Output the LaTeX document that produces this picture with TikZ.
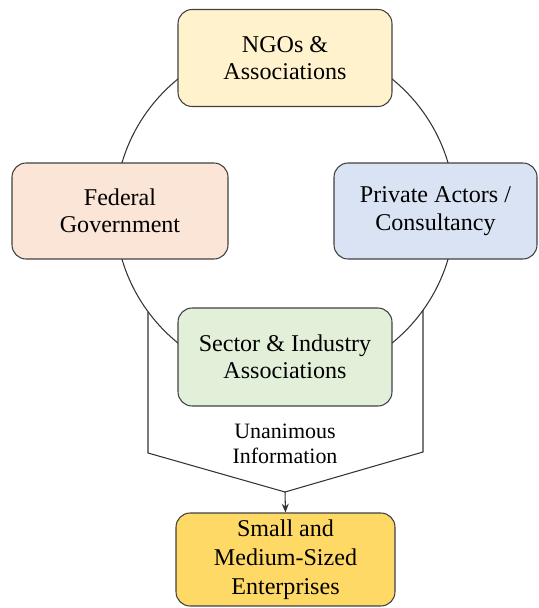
\documentclass[tikz,border=0pt]{standalone}
\usepackage{fontspec}
\setmainfont{LiberationSerif}[Extension=.ttf, UprightFont=*-Regular, BoldFont=*-Bold, ItalicFont=*-Italic, BoldItalicFont=*-BoldItalic]
\definecolor{ngoyellow}{RGB}{255, 242, 204}
\definecolor{fedpeach}{RGB}{251, 229, 214}
\definecolor{privblue}{RGB}{218, 227, 243}
\definecolor{sectgreen}{RGB}{226, 240, 217}
\definecolor{smegold}{RGB}{255, 217, 102}
\definecolor{edgegray}{RGB}{64, 64, 64}
\usetikzlibrary{arrows.meta, positioning}

\begin{document}
\begin{tikzpicture}[x=0.02cm, y=-0.02cm,
  actor/.style={draw=edgegray, line width=0.6pt, rounded corners=8pt, align=center, inner sep=0pt, font=\fontsize{13.7}{15.6}\selectfont},
  flow/.style={draw=black!80, line width=0.6pt}]
  \useasboundingbox (0,0) rectangle (538,608);

  % ring linking the four actor groups
  \draw[flow] (285,211) circle [radius=3.4cm];

  \node[actor, fill=ngoyellow, minimum width=4.28cm, minimum height=1.94cm] (ngo) at (285,58) {NGOs \&\\Associations};
  \node[actor, fill=fedpeach, minimum width=4.32cm, minimum height=1.92cm] (federal) at (120,211) {Federal\\Government};
  \node[actor, fill=privblue, minimum width=4.06cm, minimum height=1.92cm] (private) at (435.5,211) {Private Actors /\\Consultancy};
  \node[actor, fill=sectgreen, minimum width=4.28cm, minimum height=1.96cm] (sector) at (285,357) {Sector \& Industry\\Associations};
  \node[actor, fill=smegold, minimum width=4.38cm, minimum height=1.86cm, font=\fontsize{13.7}{16.4}\selectfont] (sme) at (285.5,559.5) {Small and\\Medium-Sized\\Enterprises};

  % funnel down to the enterprises
  \coordinate (leftdrop) at (148,312);
  \coordinate (leftbend) at (148,453);
  \coordinate (merge) at (285,492);
  \coordinate (rightbend) at (423,452);
  \coordinate (rightdrop) at (423,310);
  \draw[flow] (leftdrop) -- (leftbend) -- (merge) -- (rightbend) -- (rightdrop);
  \draw[flow, -{Stealth[length=5pt, width=4pt]}] (merge) -- (sme.north);

  \node[font=\fontsize{12.5}{14.2}\selectfont, align=center] (info) at (285,444) {Unanimous\\Information};
\end{tikzpicture}
\end{document}
